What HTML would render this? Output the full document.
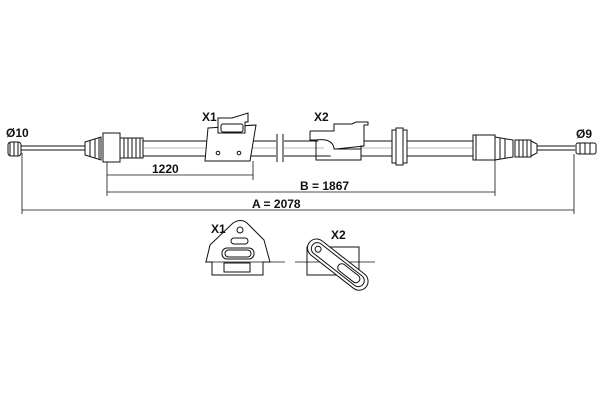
<!DOCTYPE html>
<html><head><style>
html,body{margin:0;padding:0;background:#fff}
svg{display:block}
text{font-family:"Liberation Sans",sans-serif;font-weight:bold;font-size:12px;fill:#111}
</style></head><body>
<svg width="600" height="400" viewBox="0 0 600 400" xmlns="http://www.w3.org/2000/svg">
<g stroke="#111" fill="none" stroke-width="1">
<!-- left end -->
<rect x="8" y="142" width="13" height="14" rx="3" fill="#fff"/>
<line x1="10" y1="142" x2="10" y2="156"/><line x1="14" y1="142" x2="14" y2="156"/><line x1="18" y1="142" x2="18" y2="156"/>
<line x1="21" y1="146" x2="85" y2="146"/><line x1="21" y1="150" x2="85" y2="150"/>
<path d="M85 142 L101 137 L101 160 L85 155 Z" fill="#fff"/>
<line x1="90" y1="140" x2="90" y2="157"/><line x1="95" y1="139" x2="95" y2="158"/><line x1="99" y1="138" x2="99" y2="159"/>
<rect x="103" y="133" width="17" height="29" fill="#fff"/>
<rect x="120" y="138" width="23" height="20" fill="#fff"/>
<line x1="124" y1="138" x2="124" y2="158"/><line x1="128" y1="138" x2="128" y2="158"/><line x1="132" y1="138" x2="132" y2="158"/><line x1="136" y1="138" x2="136" y2="158"/><line x1="140" y1="138" x2="140" y2="158"/>
<!-- sheath -->
<line x1="143" y1="141" x2="473" y2="141"/><line x1="143" y1="156" x2="473" y2="156"/>
<line x1="143" y1="148" x2="473" y2="148" stroke="#777" stroke-width="0.6"/>
<!-- X1 bracket -->
<polygon points="208,128 256,125 250,161 205,161" fill="#fff"/>
<path d="M218 130 L218 118 L232 118 L248 113 L248 122 L245 122 L245 133 L218 133 Z" fill="#fff"/>
<rect x="221" y="124" width="22" height="8" rx="2"/>
<circle cx="218" cy="153" r="1.8"/><circle cx="239" cy="153" r="1.8"/>
<!-- break -->
<rect x="276" y="134" width="8" height="29" fill="#fff" stroke="none"/>
<line x1="277" y1="134" x2="277" y2="162"/><line x1="283" y1="134" x2="283" y2="162"/>
<!-- X2 bracket -->
<path d="M310 131 L334 131 L334 124 L352 124 L356 122 L368 122 L368 125 L364 125 L364 146 L361 146 L361 160 L334 160" fill="#fff"/>
<path d="M310 131 L310 140 L316 140 L316 160 L361 160"/>
<path d="M316 140 Q332 138 334 148 L334 149 L361 149" />
<path d="M336 149 L364 146"/>
<!-- grommet -->
<rect x="392" y="130" width="15" height="33" fill="#fff"/>
<rect x="396" y="128" width="7" height="37" fill="#fff"/>
<!-- right end -->
<rect x="473" y="135" width="22" height="25" fill="#fff"/>
<line x1="476" y1="135" x2="476" y2="160"/>
<path d="M495 137 L513 140 L513 157 L495 160 Z" fill="#fff"/>
<line x1="500" y1="138" x2="500" y2="159"/><line x1="505" y1="139" x2="505" y2="158"/>
<rect x="515" y="140" width="16" height="17" fill="#fff"/>
<line x1="519" y1="140" x2="519" y2="157"/><line x1="523" y1="140" x2="523" y2="157"/><line x1="527" y1="140" x2="527" y2="157"/>
<path d="M531 141 L537 144 L537 153 L531 156"/>
<line x1="537" y1="146" x2="575" y2="146"/><line x1="537" y1="150" x2="575" y2="150"/>
<rect x="576" y="143" width="20" height="11" rx="2" fill="#fff"/>
<line x1="580" y1="143" x2="580" y2="154"/><line x1="585" y1="143" x2="585" y2="154"/><line x1="590" y1="143" x2="590" y2="154"/>
<!-- dimension lines -->
<g stroke-width="0.8">
<line x1="107" y1="162" x2="107" y2="196"/>
<line x1="253" y1="161" x2="253" y2="180"/>
<line x1="495" y1="160" x2="495" y2="196"/>
<line x1="22" y1="153" x2="22" y2="214"/>
<line x1="574" y1="154" x2="574" y2="214"/>
<line x1="107" y1="175" x2="253" y2="175"/>
<line x1="107" y1="192" x2="495" y2="192"/>
<line x1="22" y1="210" x2="574" y2="210"/>
</g>
<!-- X1 detail -->
<path d="M212 262 L206 262 L210 245 L233 223 Q241 218 247 223 L264 240 L270 262 L263 262 L263 275 L212 275 Z" fill="#fff"/>
<circle cx="240" cy="230" r="3"/>
<rect x="231" y="238" width="17" height="6" rx="3"/>
<rect x="222" y="248" width="32" height="11" rx="5"/>
<rect x="225" y="250" width="26" height="7" rx="3.5"/>
<rect x="224" y="263" width="26" height="9"/>
<line x1="205" y1="262" x2="285" y2="262" stroke-width="0.8"/>
<!-- X2 detail -->
<rect x="307" y="247" width="52" height="28" fill="#fff"/>
<line x1="295" y1="262" x2="375" y2="262" stroke-width="0.8"/>
<g transform="rotate(38 337 264)">
<rect x="302" y="255" width="72" height="18" rx="9" fill="#fff"/>
<rect x="306" y="258" width="64" height="12" rx="6"/>
<circle cx="313" cy="264" r="3"/>
<rect x="339" y="260" width="26" height="8" rx="4"/>
</g>
</g>
<text x="6" y="137">Ø10</text>
<text x="202" y="121">X1</text>
<text x="314" y="121">X2</text>
<text x="152" y="173">1220</text>
<text x="300" y="190">B = 1867</text>
<text x="252" y="208">A = 2078</text>
<text x="576" y="138">Ø9</text>
<text x="211" y="233">X1</text>
<text x="331" y="239">X2</text>
</svg>
</body></html>
